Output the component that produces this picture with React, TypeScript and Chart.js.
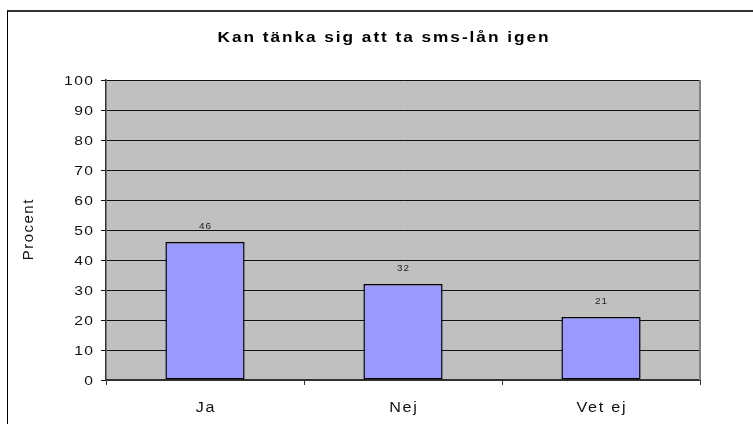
import React, { useEffect, useRef } from "react";
import { Chart, registerables } from "chart.js";

Chart.register(...registerables);

const categories = ["Ja", "Nej", "Vet ej"];
const values = [46, 32, 21];
const yTickValues = [0, 10, 20, 30, 40, 50, 60, 70, 80, 90, 100];
const chartTitle = "Kan tänka sig att ta sms-lån igen";
const yAxisTitle = "Procent";

const FONT = '"Liberation Sans", Arial, sans-serif';

function drawText(
  ctx: CanvasRenderingContext2D,
  text: string,
  x: number,
  y: number,
  font: string,
  align: CanvasTextAlign,
  sx: number,
  ls: number,
  color = "#111"
) {
  ctx.save();
  ctx.font = font;
  ctx.fillStyle = color;
  ctx.textBaseline = "middle";
  ctx.textAlign = align;
  (ctx as any).letterSpacing = `${ls}px`;
  ctx.translate(x, y);
  ctx.scale(sx, 1);
  // compensate the trailing letter spacing
  let dx = 0;
  if (align === "center") dx = ls / 2;
  else if (align === "right") dx = ls;
  ctx.fillText(text, dx, 0);
  ctx.restore();
}

const decorPlugin = {
  id: "decor",
  beforeDraw(chart: any) {
    const { ctx, chartArea: a } = chart;
    ctx.save();
    ctx.fillStyle = "#C0C0C0";
    ctx.fillRect(a.left, a.top, a.right - a.left, a.bottom - a.top);
    ctx.restore();
  },
  afterDraw(chart: any) {
    const { ctx, chartArea: a } = chart;
    const xs = chart.scales.x;
    const ys = chart.scales.y;
    ctx.save();
    ctx.strokeStyle = "#808080";
    ctx.lineWidth = 2;
    ctx.beginPath();
    ctx.moveTo(a.right, a.top);
    ctx.lineTo(a.right, a.bottom);
    ctx.stroke();
    ctx.restore();

    yTickValues.forEach((v) => {
      const y = ys.getPixelForValue(v);
      drawText(ctx, String(v), 93, y + 1, `13px ${FONT}`, "right", 1.2, 1.2);
    });
    categories.forEach((c, i) => {
      const x = xs.getPixelForValue(i);
      drawText(ctx, c, x, 408, `14px ${FONT}`, "center", 1.15, 1.5);
    });
    const meta = chart.getDatasetMeta(0);
    meta.data.forEach((bar: any, i: number) => {
      drawText(ctx, String(values[i]), bar.x, bar.y - 15, `9px ${FONT}`, "center", 1.1, 0.8, "#222");
    });
    drawText(ctx, chartTitle, 383, 38, `bold 15px ${FONT}`, "center", 1.15, 1.7, "#000");

    ctx.save();
    ctx.font = `15px ${FONT}`;
    ctx.fillStyle = "#111";
    ctx.textAlign = "center";
    ctx.textBaseline = "middle";
    (ctx as any).letterSpacing = "1.5px";
    ctx.translate(29, 230);
    ctx.rotate(-Math.PI / 2);
    ctx.fillText(yAxisTitle, 0.75, 0);
    ctx.restore();
  },
};

export default function App() {
  const ref = useRef<HTMLCanvasElement | null>(null);

  useEffect(() => {
    document.body.style.margin = "0";
    const canvas = ref.current;
    if (!canvas) return;
    const chart = new Chart(canvas, {
      type: "bar",
      data: {
        labels: categories,
        datasets: [
          {
            data: values,
            backgroundColor: "#9999FF",
            borderColor: "#000000",
            borderWidth: 1.5,
            borderSkipped: false,
            categoryPercentage: 1,
            barPercentage: 0.4,
          },
        ],
      },
      options: {
        responsive: false,
        animation: false,
        devicePixelRatio: 1,
        layout: { padding: { left: 0, top: 80, right: 53, bottom: 0 } },
        plugins: {
          legend: { display: false },
          title: { display: false },
          tooltip: { enabled: false },
        },
        scales: {
          x: {
            grid: {
              display: true,
              drawOnChartArea: false,
              drawTicks: true,
              tickLength: 5,
              color: "#333",
              lineWidth: 1,
              offset: true,
            },
            border: { display: true, color: "#333", width: 2 },
            ticks: { display: false },
            afterFit: (s: any) => {
              s.height = 44;
            },
          },
          y: {
            min: 0,
            max: 100,
            ticks: { display: false, stepSize: 10 },
            grid: {
              color: "#111",
              lineWidth: 1,
              drawTicks: true,
              tickLength: 5,
            },
            border: { display: true, color: "#333", width: 1.5 },
            afterFit: (s: any) => {
              s.width = 106;
            },
          },
        },
      },
      plugins: [decorPlugin],
    });
    return () => chart.destroy();
  }, []);

  return (
    <div
      style={{
        position: "fixed",
        left: 0,
        top: 0,
        width: 753,
        height: 424,
        background: "#fff",
        overflow: "hidden",
      }}
    >
      <div
        style={{
          position: "absolute",
          left: 7,
          top: 10,
          width: 800,
          height: 500,
          borderTop: "2px solid #333",
          borderLeft: "1px solid #000",
        }}
      />
      <canvas
        ref={ref}
        width={753}
        height={424}
        style={{ position: "absolute", left: 0, top: 0, width: 753, height: 424 }}
      />
    </div>
  );
}
